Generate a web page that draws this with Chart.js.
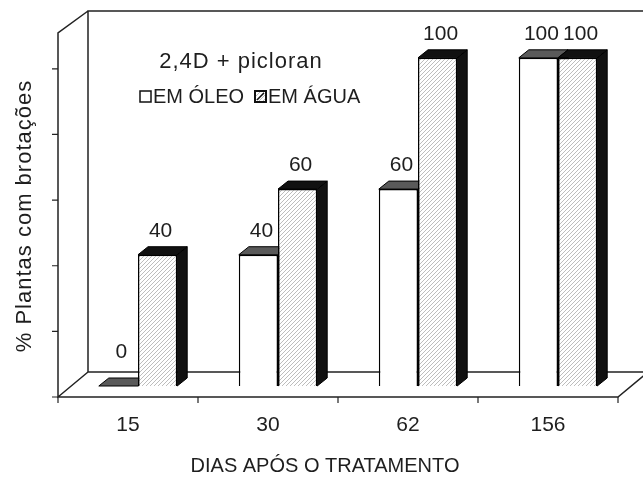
<!DOCTYPE html>
<html>
<head>
<meta charset="utf-8">
<script src="https://cdn.jsdelivr.net/npm/chart.js@4.4.1/dist/chart.umd.min.js"></script>
<style>
  html, body { margin: 0; padding: 0; background: #fff; }
  canvas { display: block; }
</style>
</head>
<body>
<canvas id="chart" width="643" height="481"></canvas>
<script>
// Data
const dias = ['15', '30', '62', '156'];
const emOleo = [0, 40, 60, 100];
const emAgua = [40, 60, 100, 100];
const valueTicks = [0, 20, 40, 60, 80, 100];
const seriesNames = ['EM ÓLEO', 'EM ÁGUA'];
const chartTitle = '2,4D + picloran';
const xTitle = 'DIAS APÓS O TRATAMENTO';
const yTitle = '% Plantas com brotações';

const INK = '#1e1e1e';
const FONT = '"Liberation Sans", Arial, Helvetica, sans-serif';

// Offsets of the front and back planes relative to the bar plane,
// and the depth of each 3D bar.
const FRONT = { dx: -10, dy: 11 };
const BACK = { dx: 20, dy: -14 };
const BAR_DEPTH = { dx: 10, dy: -8 };

function makeHatch() {
  const s = 4;
  const c = document.createElement('canvas');
  c.width = s; c.height = s;
  const g = c.getContext('2d');
  g.fillStyle = '#fff';
  g.fillRect(0, 0, s, s);
  g.strokeStyle = '#bdbdbd';
  g.lineWidth = 1;
  g.beginPath();
  g.moveTo(0, s); g.lineTo(s, 0);
  g.moveTo(-1, 1); g.lineTo(1, -1);
  g.moveTo(s - 1, s + 1); g.lineTo(s + 1, s - 1);
  g.stroke();
  return g.createPattern(c, 'repeat');
}
const hatch = makeHatch();

function poly(ctx, pts, fill, stroke, lw) {
  ctx.beginPath();
  ctx.moveTo(pts[0][0], pts[0][1]);
  for (let i = 1; i < pts.length; i++) ctx.lineTo(pts[i][0], pts[i][1]);
  ctx.closePath();
  if (fill) { ctx.fillStyle = fill; ctx.fill(); }
  if (stroke) { ctx.strokeStyle = stroke; ctx.lineWidth = lw || 1; ctx.stroke(); }
}

function setText(ctx, size, spacing) {
  ctx.font = size + 'px ' + FONT;
  ctx.fillStyle = INK;
  if ('letterSpacing' in ctx) ctx.letterSpacing = (spacing || 0) + 'px';
}

const topColors = ['#5a5a5a', '#111'];
const sideColors = ['#333', '#111'];

const box3d = {
  id: 'box3d',
  beforeDatasetsDraw(chart) {
    const { ctx, chartArea: a, scales: { x, y } } = chart;
    const fL = a.left + FRONT.dx, fR = a.right + FRONT.dx;
    const fT = a.top + FRONT.dy - 3, fB = a.bottom + FRONT.dy;
    const bL = a.left + BACK.dx, bR = a.right + BACK.dx;
    const bT = a.top + BACK.dy, bB = a.bottom + BACK.dy;

    ctx.save();
    ctx.strokeStyle = '#222';
    ctx.lineWidth = 1.5;
    ctx.lineJoin = 'miter';
    ctx.beginPath();
    // back wall
    ctx.moveTo(bR, bT); ctx.lineTo(bL, bT); ctx.lineTo(bL, bB); ctx.lineTo(bR, bB);
    // side wall
    ctx.moveTo(bL, bT); ctx.lineTo(fL, fT); ctx.lineTo(fL, fB); ctx.lineTo(bL, bB);
    // floor front edge and right edge
    ctx.moveTo(fL, fB); ctx.lineTo(fR, fB); ctx.lineTo(bR, bB);
    ctx.stroke();

    // value axis tick marks on the front edge
    ctx.lineWidth = 1.2;
    ctx.beginPath();
    valueTicks.forEach(v => {
      const py = y.getPixelForValue(v) + FRONT.dy;
      ctx.moveTo(fL - 6, py); ctx.lineTo(fL, py);
    });
    // category boundary ticks on the floor front edge
    const cw = (a.right - a.left) / dias.length;
    for (let i = 0; i <= dias.length; i++) {
      const px = (i < dias.length ? x.getPixelForTick(i) - cw / 2 : x.getPixelForTick(i - 1) + cw / 2) + FRONT.dx;
      ctx.moveTo(px, fB); ctx.lineTo(px, fB + 6);
    }
    ctx.stroke();

    // depth faces of the bars (front faces are drawn by the chart)
    chart.data.datasets.forEach((ds, di) => {
      const meta = chart.getDatasetMeta(di);
      meta.data.forEach(bar => {
        const p = bar.getProps(['x', 'y', 'base', 'width'], true);
        const l = p.x - p.width / 2, r = p.x + p.width / 2;
        const dx = BAR_DEPTH.dx, dy = BAR_DEPTH.dy;
        poly(ctx, [[r, p.y], [r + dx, p.y + dy], [r + dx, p.base + dy], [r, p.base]], sideColors[di], '#000', 1);
        poly(ctx, [[l, p.y], [l + dx, p.y + dy], [r + dx, p.y + dy], [r, p.y]], topColors[di], '#000', 1);
      });
    });
    ctx.restore();
  },
  afterDatasetsDraw(chart) {
    const { ctx, scales: { x } } = chart;
    ctx.save();
    ctx.textAlign = 'center';
    ctx.textBaseline = 'middle';

    // value labels above the bars; a zero label sits a little higher
    // so it stays clear of the flat bar
    setText(ctx, 21, 0);
    chart.data.datasets.forEach((ds, di) => {
      const meta = chart.getDatasetMeta(di);
      meta.data.forEach((bar, i) => {
        const p = bar.getProps(['x', 'y'], true);
        const lift = ds.data[i] === 0 ? 34 : 24;
        ctx.fillText(String(ds.data[i]), p.x + 3, p.y - lift);
      });
    });

    // category labels on the front plane
    setText(ctx, 21, 0);
    dias.forEach((d, i) => {
      ctx.fillText(d, x.getPixelForTick(i) + FRONT.dx, 425);
    });

    // axis titles
    setText(ctx, 20, 0);
    ctx.fillText(xTitle, 325, 466);
    ctx.save();
    ctx.translate(25, 216);
    ctx.rotate(-Math.PI / 2);
    setText(ctx, 22, 1);
    ctx.fillText(yTitle, 0, 0);
    ctx.restore();

    // legend title and entries
    setText(ctx, 22, 1);
    ctx.fillText(chartTitle, 241, 62);

    ctx.textAlign = 'left';
    setText(ctx, 20, 0);
    const entries = [{ bx: 140, tx: 153 }, { bx: 255, tx: 268 }];
    chart.data.datasets.forEach((ds, di) => {
      const e = entries[di];
      ctx.fillStyle = ds.backgroundColor;
      ctx.fillRect(e.bx, 91, 11, 11);
      ctx.strokeStyle = '#111';
      ctx.lineWidth = di === 1 ? 2 : 1.5;
      ctx.strokeRect(e.bx, 91, 11, 11);
      if (di === 1) {
        ctx.lineWidth = 1.5;
        ctx.beginPath();
        ctx.moveTo(e.bx + 2, 100); ctx.lineTo(e.bx + 9, 93);
        ctx.stroke();
      }
      ctx.fillStyle = INK;
      ctx.fillText(ds.label, e.tx, 97);
    });
    ctx.restore();
  }
};

new Chart(document.getElementById('chart'), {
  type: 'bar',
  data: {
    labels: dias,
    datasets: [
      { label: seriesNames[0], data: emOleo, backgroundColor: '#fff', borderColor: '#000', borderWidth: 1.5 },
      { label: seriesNames[1], data: emAgua, backgroundColor: hatch, borderColor: '#000', borderWidth: 1.5 }
    ]
  },
  options: {
    responsive: false,
    animation: false,
    devicePixelRatio: 1,
    layout: { padding: { left: 68, right: 15, top: 25, bottom: 95 } },
    categoryPercentage: 0.56,
    barPercentage: 1.0,
    plugins: { legend: { display: false }, tooltip: { enabled: false }, title: { display: false } },
    scales: {
      x: { display: false },
      y: { display: false, min: 0, max: 110 }
    }
  },
  plugins: [box3d]
});
</script>
</body>
</html>
